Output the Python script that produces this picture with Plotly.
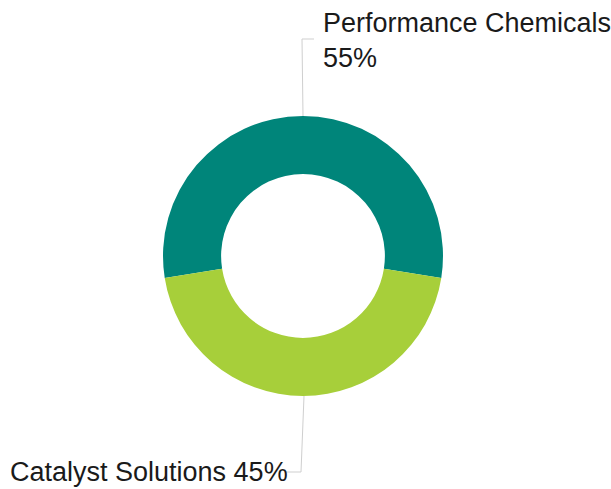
import plotly.graph_objects as go

labels = ["Performance Chemicals", "Catalyst Solutions"]
values = [55, 45]
colors = ["#00857A", "#A7CF3A"]

W, H = 611, 489

def px(x):
    return x / W

def py(y):
    return 1 - y / H

fig = go.Figure()
fig.add_trace(go.Pie(
    labels=labels, values=values, hole=0.585, sort=False,
    direction="clockwise", rotation=-99,
    marker=dict(colors=colors, line=dict(width=0)),
    textinfo="none", hoverinfo="label+percent", showlegend=False,
    domain=dict(x=[px(163), px(443)], y=[py(396), py(116)]),
))

line_style = dict(color="#cfcfcf", width=1)
# leader lines
fig.add_shape(type="path", xref="paper", yref="paper",
              path=f"M {px(303)} {py(116)} L {px(302)} {py(39)} L {px(314)} {py(39)}",
              line=line_style)
fig.add_shape(type="path", xref="paper", yref="paper",
              path=f"M {px(304)} {py(396)} L {px(301)} {py(472)} L {px(286)} {py(472)}",
              line=line_style)

font = dict(family="Liberation Sans, Arial, sans-serif", size=27, color="#1a1a1a")
fig.add_annotation(x=px(321), y=py(6), xref="paper", yref="paper",
                   xanchor="left", yanchor="top", showarrow=False, align="left",
                   text=f"{labels[0]}<br>{values[0]}%", font=font)
fig.add_annotation(x=px(290), y=py(472), xref="paper", yref="paper",
                   xanchor="right", yanchor="middle", showarrow=False, align="right",
                   text=f"{labels[1]} {values[1]}%", font=font)

fig.update_layout(width=W, height=H, margin=dict(l=0, r=0, t=0, b=0),
                  paper_bgcolor="white", plot_bgcolor="white")
fig.write_html("out.html")
